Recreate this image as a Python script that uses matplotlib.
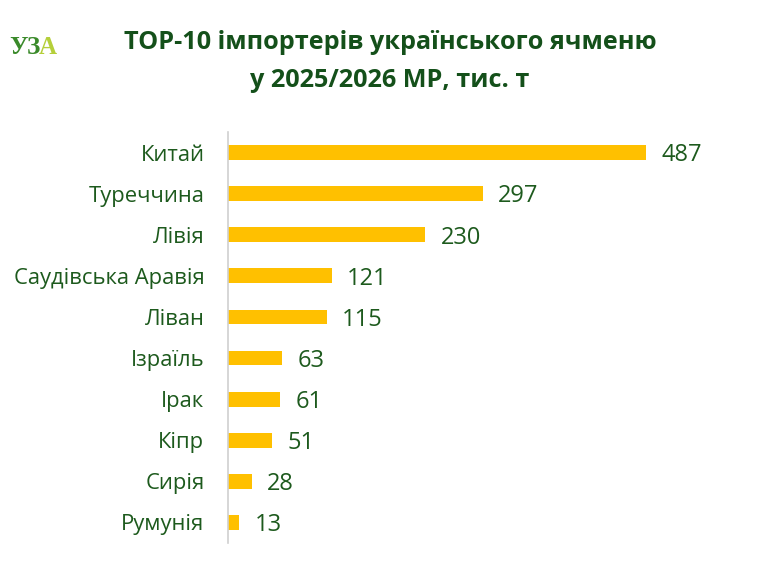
import matplotlib
matplotlib.use("Agg")
import matplotlib.pyplot as plt

countries = ["Китай", "Туреччина", "Лівія", "Саудівська Аравія", "Ліван",
             "Ізраїль", "Ірак", "Кіпр", "Сирія", "Румунія"]
values = [487, 297, 230, 121, 115, 63, 61, 51, 28, 13]
title = "TOP-10 імпортерів українського ячменю\nу 2025/2026 МР, тис. т"

GREEN = "#1d5a1d"
BAR = "#FFC000"
plt.rcParams['font.family'] = ['Open Sans', 'DejaVu Sans']

fig = plt.figure(figsize=(7.8, 5.75), dpi=100)
ax = fig.add_axes([0.2923, 0.0557, 0.605, 0.7147])
y = list(range(len(countries)))
ax.barh(y, values, height=0.36, color=BAR)
ax.set_ylim(len(countries) - 0.5, -0.5)
ax.set_xlim(0, 550)
ax.set_yticks(y)
ax.set_yticklabels(countries, fontsize=15.8, color=GREEN)
ax.tick_params(axis='y', length=0, pad=17)
ax.set_xticks([])
for s in ["top", "right", "bottom"]:
    ax.spines[s].set_visible(False)
ax.spines["left"].set_color("#d0d0d0")
ax.spines["left"].set_linewidth(1.2)
for yi, v in zip(y, values):
    ax.annotate(str(v), (v, yi), xytext=(11, -2), textcoords="offset points",
                va="center", ha="left", fontsize=17, color=GREEN)

fig.text(0.5, 0.893, title, ha="center", va="center", fontsize=18.2,
         fontweight="bold", color="#14501a", linespacing=1.68)
fig.text(0.012, 0.918, "УЗ", ha="left", va="center", fontsize=18,
         fontweight="bold", color="#3a8a2a", family=["Liberation Serif", "DejaVu Serif"])
fig.text(0.050, 0.918, "А", ha="left", va="center", fontsize=18,
         fontweight="bold", color="#b5cf3a", family=["Liberation Serif", "DejaVu Serif"])
fig.savefig("out.png", dpi=100)
